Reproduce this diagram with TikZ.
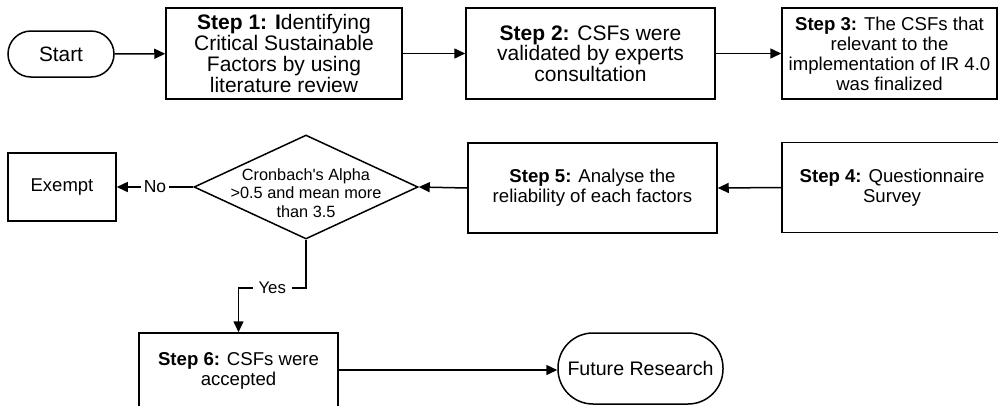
\documentclass[tikz,border=0pt]{standalone}
\usepackage{fontspec}
\setmainfont{Liberation Sans}
\usetikzlibrary{arrows.meta,shapes.geometric}
\newcommand{\fsA}{\fontsize{21}{20.7}\selectfont}
\newcommand{\fsB}{\fontsize{18.6}{20}\selectfont}
\newcommand{\fsC}{\fontsize{16.3}{18.2}\selectfont}
\begin{document}
\begin{tikzpicture}[x=1pt,y=-1pt,
  stepbox/.style={draw,line width=1.5pt,inner sep=0pt,align=center},
  pill/.style={draw,line width=1.5pt,inner sep=0pt,align=center},
  conn/.style={line width=1.5pt,-{Triangle[length=11pt,width=10pt]}},
  lbl/.style={fill=white,inner ysep=1pt}
]
\useasboundingbox (0,0) rectangle (998,405);
% row 1
\node[pill,minimum width=106pt,minimum height=46pt,rounded corners=23pt,font=\fontsize{20.8}{22}\selectfont] (st) at (61,54) {Start};
\node[stepbox,minimum width=236pt,minimum height=91pt,font=\fsA] (s1) at (284,53.5) {\textbf{Step 1: I}dentifying\\Critical Sustainable\\Factors by using\\literature review};
\node[stepbox,minimum width=249pt,minimum height=91pt,font=\fsA] (s2) at (590.5,53.5) {\textbf{Step 2:} CSFs were\\validated by experts\\consultation};
\node[stepbox,minimum width=215pt,minimum height=91pt,font=\fsB] (s3) at (889.5,53.5) {\textbf{Step 3:} The CSFs that\\relevant to the\\implementation of IR 4.0\\was finalized};
% row 2
\node[stepbox,minimum width=220pt,minimum height=90pt,font=\fsB] (s4) at (892,187.5) {\textbf{Step 4:} Questionnaire\\Survey};
\node[stepbox,minimum width=249pt,minimum height=90pt,font=\fsB] (s5) at (592.5,188) {\textbf{Step 5:} Analyse the\\reliability of each factors};
\node[draw,diamond,line width=1.5pt,inner sep=0pt,minimum width=224pt,minimum height=104pt] (d) at (306,187) {};
\node[align=center,inner sep=0pt,font=\fsC] (dt) at (306,193) {Cronbach\textquotesingle s Alpha\\>0.5 and mean more\\than 3.5};
\node[stepbox,minimum width=108pt,minimum height=68pt,font=\fontsize{18.5}{20}\selectfont] (ex) at (62,187) {Exempt};
% row 3
\node[stepbox,minimum width=199pt,minimum height=75pt,font=\fsB] (s6) at (238.5,370.5) {\textbf{Step 6:} CSFs were\\accepted};
\node[pill,minimum width=165pt,minimum height=71pt,rounded corners=35pt,font=\fontsize{19.6}{21}\selectfont] (fr) at (640.5,368.5) {Future Research};
\coordinate (ya) at (306,288);
\coordinate (yb) at (238.5,288);
% connectors
\draw[conn] (st) -- (s1);
\draw[conn] (s1) -- (s2);
\draw[conn] (s2) -- (s3);
\draw[conn] (s4.west) -- (s5.east);
\draw[conn] (s5.west) -- (d.east);
\draw[conn] (d.west) -- node[lbl,inner xsep=2.5pt,font=\fontsize{17.5}{19}\selectfont]{No} (ex.east);
\draw[conn] (d.south) -- (ya) -- node[lbl,inner xsep=6pt,font=\fontsize{16.8}{18}\selectfont]{Yes} (yb) -- (s6.north);
\draw[conn] (s6.east |- 0,370) -- (fr.west |- 0,370);
\end{tikzpicture}
\end{document}
